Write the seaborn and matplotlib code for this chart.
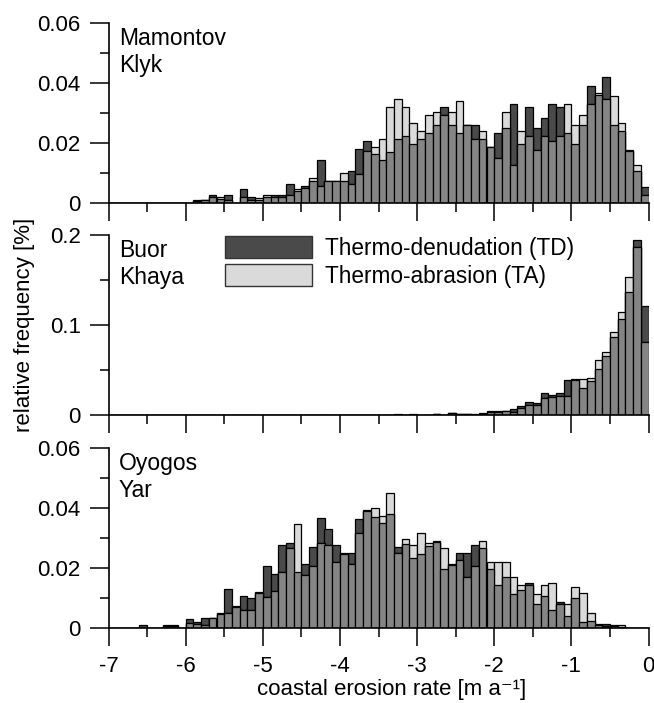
import numpy as np
import pandas as pd
import matplotlib
matplotlib.use("Agg")
import matplotlib.pyplot as plt
import seaborn as sns
from matplotlib.patches import Patch
from matplotlib.ticker import MultipleLocator, FuncFormatter

# ---------------- data (relative frequency per 0.1 m/a bin, -7 ... 0) ----------------
bin_edges = [round(v, 2) for v in np.linspace(-7.0, 0.0, 71)]
bin_centers = [round((a + b) / 2, 3) for a, b in zip(bin_edges[:-1], bin_edges[1:])]

mk_td = [0]*11 + [
    .0006, .0008, .0026, .0012, .0026, 0, .0045, .0017, .0008, .0020,
    .0026, .0026, .0061, .0037, .0054, .0072, .0142, .0072, .0072, .0072,
    .0106, .0178, .0204, .0162, .0143, .0169, .0213, .0222, .0195, .0213,
    .0231, .0258, .0320, .0258, .0231, .0258, .0258, .0213, .0186, .0231,
    .0249, .0329, .0195, .0320, .0249, .0284, .0329, .0320, .0231, .0195,
    .0258, .0391, .0358, .0418, .0258, .0240, .0172, .0106, .0051]
mk_ta = [0]*11 + [
    .0009, .0008, .0017, .0017, .0008, 0, .0017, .0008, .0015, .0026,
    .0017, .0017, .0026, .0045, .0048, .0081, .0054, .0072, .0072, .0098,
    .0061, .0096, .0173, .0186, .0213, .0320, .0347, .0320, .0266, .0240,
    .0293, .0302, .0293, .0302, .0338, .0258, .0213, .0240, .0186, .0150,
    .0302, .0124, .0240, .0222, .0177, .0222, .0204, .0222, .0329, .0258,
    .0293, .0329, .0365, .0347, .0356, .0266, .0177, .0124, .0026]

bk_td = [0]*37 + [
    .0008, 0, .0008, 0, .0005, .0008, .0005, .0022, .0015, .0015,
    .0007, .0020, .0044, .0050, .0048, .0067, .0100, .0148, .0135, .0250,
    .0220, .0240, .0385, .0385, .0304, .0378, .0510, .0660, .0863, .1070,
    .1370, .1940, .1210]
bk_ta = [0]*37 + [
    .0005, 0, .0005, 0, .0003, .0006, .0004, .0018, .0012, .0012,
    .0005, .0016, .0030, .0030, .0048, .0037, .0074, .0110, .0115, .0185,
    .0200, .0215, .0210, .0395, .0400, .0415, .0615, .0704, .0926, .1140,
    .1530, .1870, .0810]

oy_td = [0, 0, 0, 0, .0007, 0, 0, .0007, .0007, 0,
    .0027, .0019, .0032, .0032, .0044, .0128, .0068, .0105, .0097, .0116,
    .0206, .0180, .0276, .0284, .0187, .0211, .0270, .0366, .0328, .0276,
    .0250, .0250, .0362, .0390, .0368, .0349, .0380, .0270, .0278, .0232,
    .0246, .0274, .0286, .0194, .0210, .0250, .0250, .0277, .0266, .0194,
    .0143, .0170, .0112, .0125, .0150, .0080, .0105, .0060, .0084, .0040,
    .0098, .0020, .0022, .0013, .0013, .0004, .0003, 0, 0, 0]
oy_ta = [0, 0, 0, 0, 0, 0, 0, .0004, .0004, 0,
    .0015, .0011, .0008, .0032, .0047, .0047, .0072, .0058, .0058, .0117,
    .0103, .0123, .0187, .0265, .0346, .0174, .0206, .0282, .0277, .0219,
    .0245, .0211, .0315, .0393, .0398, .0373, .0451, .0250, .0296, .0277,
    .0315, .0284, .0290, .0265, .0212, .0226, .0168, .0206, .0290, .0219,
    .0219, .0219, .0168, .0142, .0142, .0111, .0142, .0150, .0078, .0078,
    .0136, .0116, .0047, .0007, .0005, .0007, .0007, 0, 0, 0]

sites = ["Mamontov\nKlyk", "Buor\nKhaya", "Oyogos\nYar"]
site_td = [mk_td, bk_td, oy_td]
site_ta = [mk_ta, bk_ta, oy_ta]
y_max = [0.06, 0.2, 0.06]
y_major = [0.02, 0.1, 0.02]
y_minor = [0.01, 0.05, 0.01]
x_ticks = [-7, -6, -5, -4, -3, -2, -1, 0]
legend_labels = ["Thermo-denudation (TD)", "Thermo-abrasion (TA)"]

rows = []
for s, td, ta in zip(sites, site_td, site_ta):
    for c, a, b in zip(bin_centers, td, ta):
        rows.append({"site": s, "rate": c, "TD": a, "TA": b, "both": min(a, b)})
df = pd.DataFrame(rows)

# ---------------- style ----------------
sns.set_theme(style="ticks")
plt.rcParams["font.family"] = ["Liberation Sans", "DejaVu Sans"]
plt.rcParams["text.color"] = "black"
plt.rcParams["xtick.color"] = "black"
plt.rcParams["ytick.color"] = "black"
plt.rcParams["xtick.labelcolor"] = "black"
plt.rcParams["ytick.labelcolor"] = "black"
FS = 16.0

c_td = "#4a4a4a"
c_ta = "#dadada"
c_both = "#858585"

W, H = 654, 703
fig = plt.figure(figsize=(W / 100, H / 100), dpi=100)
x0, x1 = 108.5, 648.5
panels_px = [(23, 202.5), (235, 415), (448, 627.5)]

axes = []
for i, (s, (top, bot)) in enumerate(zip(sites, panels_px)):
    ax = fig.add_axes([x0 / W, 1 - bot / H, (x1 - x0) / W, (bot - top) / H])
    axes.append(ax)
    sub = df[df["site"] == s]
    common = dict(x="rate", bins=bin_edges, ax=ax, edgecolor="black",
                  linewidth=0.9, alpha=1, stat="count")
    sns.histplot(data=sub, weights="TD", color=c_td, **common)
    sns.histplot(data=sub, weights="TA", color=c_ta, **common)
    sns.histplot(data=sub, weights="both", color=c_both, **common)

    ax.set_xlim(-7, 0)
    ax.set_ylim(0, y_max[i])
    ax.set_ylabel("")
    ax.set_xlabel("")
    for sp in ["top", "right"]:
        ax.spines[sp].set_visible(False)
    for sp in ["left", "bottom"]:
        ax.spines[sp].set_linewidth(1.2)
        ax.spines[sp].set_color("black")
    ax.yaxis.set_major_locator(MultipleLocator(y_major[i]))
    ax.yaxis.set_minor_locator(MultipleLocator(y_minor[i]))
    ax.yaxis.set_major_formatter(FuncFormatter(lambda v, p: "0" if abs(v) < 1e-12 else f"{v:g}"))
    ax.set_xticks(x_ticks)
    ax.xaxis.set_minor_locator(MultipleLocator(0.5))
    ax.tick_params(axis="y", which="major", direction="out", length=13.5, width=1.1,
                   pad=6.5, labelsize=FS, color="black", labelcolor="black")
    ax.tick_params(axis="y", which="minor", direction="out", length=6.5, width=1.1, color="black")
    ax.tick_params(axis="x", which="major", direction="out", length=13, width=1.1,
                   pad=7.5, labelsize=FS, color="black", labelcolor="black")
    ax.tick_params(axis="x", which="minor", direction="out", length=6.5, width=1.1, color="black")
    if i < 2:
        ax.tick_params(axis="x", labelbottom=False)
    else:
        ax.set_xticklabels([f"{t}" if t != 0 else "0" for t in x_ticks])
    ax.text((119 - x0) / (x1 - x0), 1 - 4 / (bot - top), s, transform=ax.transAxes,
            ha="left", va="top", fontsize=FS + 0.5, linespacing=1.2, color="black")
    ax.patch.set_alpha(0)

handles = [Patch(facecolor=c_td, edgecolor="#333333", linewidth=1.0),
           Patch(facecolor=c_ta, edgecolor="#333333", linewidth=1.0)]
axes[1].legend(handles, legend_labels, loc="upper left",
               bbox_to_anchor=(225 / W, 1 - 236 / H), bbox_transform=fig.transFigure,
               frameon=False, fontsize=FS + 0.3, handlelength=3.85, handleheight=1.1,
               handletextpad=0.55, labelspacing=0.2, borderpad=0, borderaxespad=0,
               labelcolor="black")

fig.text(25 / W, 1 - 325 / H, "relative frequency [%]", rotation=90,
         ha="center", va="center", fontsize=FS, color="black")
fig.text(392 / W, 1 - 689 / H, "coastal erosion rate [m a\u207b\u00b9]",
         ha="center", va="center", fontsize=FS, color="black")

fig.savefig("out.png", dpi=100)
